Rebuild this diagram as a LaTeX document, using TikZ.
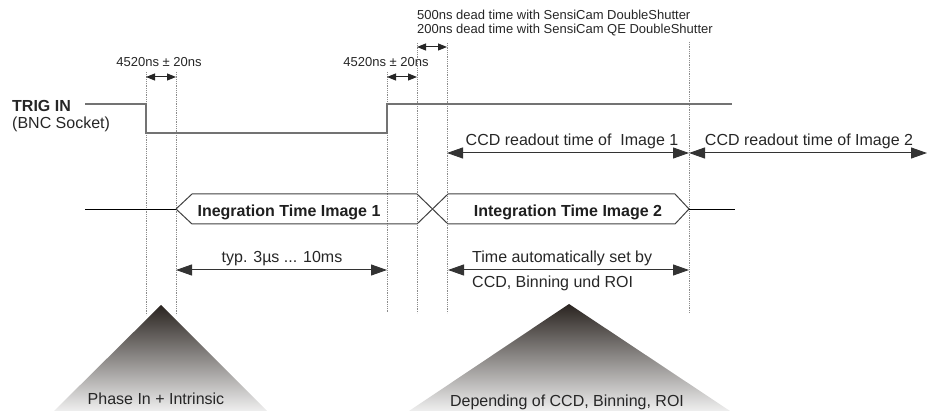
\documentclass[tikz,border=0pt]{standalone}
\usepackage{fontspec}
\setmainfont{Liberation Sans}
\usetikzlibrary{arrows.meta}
\definecolor{apex}{HTML}{2A2420}
\definecolor{basecol}{HTML}{EFEFEF}
\begin{document}
\begin{tikzpicture}[x=1pt,y=-1pt,
 sig/.style={draw=black!55, line width=1.5pt},
 guide/.style={draw=black!45, densely dotted, line width=0.8pt},
 dimarr/.style={draw=black!80, line width=1pt, {Triangle[length=16pt,width=11pt]}-{Triangle[length=16pt,width=11pt]}},
 smalldim/.style={draw=black!85, line width=1pt, {Triangle[length=9pt,width=7pt]}-{Triangle[length=9pt,width=7pt]}},
 lbl/.style={font=\fontsize{16}{19}\selectfont, text=black!85, inner sep=0pt},
 smalllbl/.style={font=\fontsize{13}{16}\selectfont, text=black!85, inner sep=0pt},
 buslbl/.style={font=\fontsize{16}{19}\selectfont\bfseries, text=black!88, inner sep=0pt},
 bus/.style={draw=black!75, line width=1pt},
 tail/.style={draw=black, line width=0.9pt},
]
\useasboundingbox (0,0) rectangle (928,411);

% guide lines
\coordinate (g1t) at (146,72);  \coordinate (g1b) at (146,315);
\coordinate (g2t) at (176,72);  \coordinate (g2b) at (176,315);
\coordinate (g3t) at (387,72);  \coordinate (g3b) at (387,313);
\coordinate (g4t) at (417,43);  \coordinate (g4b) at (417,313);
\coordinate (g5t) at (447,43);  \coordinate (g5b) at (447,313);
\coordinate (g6t) at (689,42);  \coordinate (g6b) at (689,313);
\foreach \i in {1,...,6} {\draw[guide] (g\i t) -- (g\i b);}

% triangles
\coordinate (tr1l) at (54,411); \coordinate (tr1a) at (161,305); \coordinate (tr1r) at (267,411);
\coordinate (tr2l) at (409,411); \coordinate (tr2a) at (569,304); \coordinate (tr2r) at (730,411);
\shade[top color=apex, bottom color=basecol] (tr1l) -- (tr1a) -- (tr1r) -- cycle;
\shade[top color=apex, bottom color=basecol] (tr2l) -- (tr2a) -- (tr2r) -- cycle;
\node[lbl, text=black!85] (phase) at (156,399) {Phase In + Intrinsic};
\node[lbl, text=black!85] (depend) at (567,402) {Depending of CCD, Binning, ROI};

% trigger signal
\coordinate (s1) at (85,104);
\coordinate (s2) at (146,104);
\coordinate (s3) at (146,133);
\coordinate (s4) at (387,133);
\coordinate (s5) at (387,104);
\coordinate (s6) at (732,104);
\draw[sig] (s1) -- (s2) -- (s3) -- (s4) -- (s5) -- (s6);
\node[lbl, font=\fontsize{16}{19}\selectfont\bfseries, anchor=west] (trig) at (12,106) {TRIG IN};
\node[lbl, anchor=west] (bnc) at (12,124) {(BNC Socket)};

% small dimension arrows
\coordinate (d1a) at (146,77); \coordinate (d1b) at (176,77);
\coordinate (d2a) at (387,77); \coordinate (d2b) at (417,77);
\coordinate (d3a) at (417,47); \coordinate (d3b) at (447,47);
\draw[smalldim] (d1a) -- (d1b);
\draw[smalldim] (d2a) -- (d2b);
\draw[smalldim] (d3a) -- (d3b);
\node[smalllbl] (del1) at (159,62) {4520ns ± 20ns};
\node[smalllbl] (del2) at (386,62) {4520ns ± 20ns};
\node[smalllbl, anchor=west] (dead1) at (417,15) {500ns dead time with SensiCam DoubleShutter};
\node[smalllbl, anchor=west] (dead2) at (417,30) {200ns dead time with SensiCam QE DoubleShutter};

% readout arrows
\coordinate (r1) at (447,153); \coordinate (r2) at (689,153); \coordinate (r3) at (927,153);
\draw[dimarr] (r1) -- (r2);
\draw[dimarr] (r2) -- (r3);
\node[lbl] (ro1) at (572,141) {CCD readout time of\ \ Image 1};
\node[lbl] (ro2) at (809,141) {CCD readout time of Image 2};

% bus
\coordinate (b0) at (85,209);
\coordinate (b1) at (176,209);
\coordinate (b2t) at (192,194); \coordinate (b2b) at (192,224);
\coordinate (b3t) at (417,194); \coordinate (b3b) at (417,224);
\coordinate (b4t) at (448,194); \coordinate (b4b) at (448,224);
\coordinate (b5t) at (675,194); \coordinate (b5b) at (675,224);
\coordinate (b6) at (689,209);
\coordinate (b7) at (735,209);
\draw[tail] (b0) -- (b1);
\draw[bus] (b1) -- (b2t) -- (b3t) -- (b4b) -- (b5b) -- (b6);
\draw[bus] (b1) -- (b2b) -- (b3b) -- (b4t) -- (b5t) -- (b6);
\draw[tail] (b6) -- (b7);
\node[buslbl] (img1) at (289,212) {Inegration Time Image 1};
\node[buslbl] (img2) at (568,212) {Integration Time Image 2};

% lower arrows
\coordinate (l1) at (176,270); \coordinate (l2) at (387,270);
\coordinate (l3) at (448,270); \coordinate (l4) at (689,270);
\draw[dimarr] (l1) -- (l2);
\draw[dimarr] (l3) -- (l4);
\node[lbl] (typ) at (282,259) {typ. 3µs ... 10ms};
\node[lbl, anchor=west] (auto1) at (472,258) {Time automatically set by};
\node[lbl, anchor=west] (auto2) at (472,283) {CCD, Binning und ROI};
\end{tikzpicture}
\end{document}
